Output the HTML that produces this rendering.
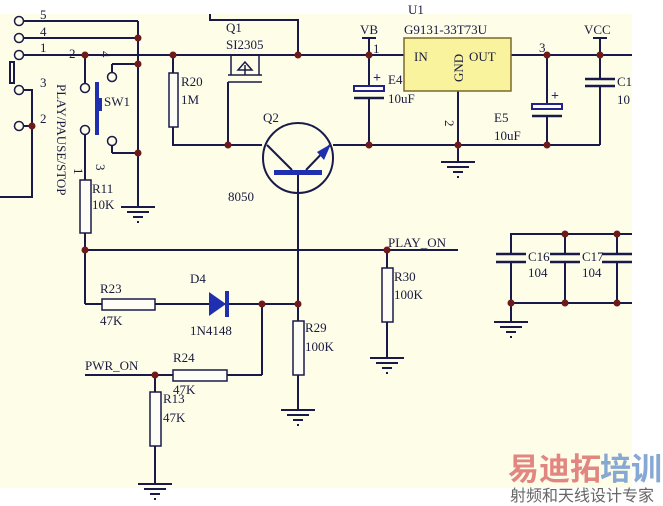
<!DOCTYPE html>
<html><head><meta charset="utf-8"><style>
html,body{margin:0;padding:0;background:#fff;}
svg{display:block;}
text{font-family:"Liberation Serif",serif;font-size:13px;fill:#1a1a40;}
</style></head><body>
<svg width="663" height="506" viewBox="0 0 663 506" xmlns="http://www.w3.org/2000/svg">
<defs>
<g id="g"><line x1="-17" y1="0" x2="17" y2="0"/><line x1="-11" y1="5" x2="11" y2="5"/><line x1="-5" y1="10" x2="5" y2="10"/><line x1="-1" y1="15" x2="1" y2="15"/></g>
</defs>
<rect x="0" y="14" width="632" height="474" fill="#fdfde8"/>
<g stroke="#1a1a4a" stroke-width="2" fill="none">
<line x1="23" y1="21" x2="138" y2="21"/>
<line x1="23" y1="38" x2="138" y2="38"/>
<line x1="23" y1="55" x2="632" y2="55"/>
<line x1="138" y1="21" x2="138" y2="207"/>
<line x1="138" y1="64" x2="112" y2="64"/><line x1="112" y1="64" x2="112" y2="73"/>
<line x1="138" y1="153" x2="112" y2="153"/><line x1="112" y1="153" x2="112" y2="145"/>
<line x1="85" y1="55" x2="85" y2="84"/>
<line x1="85" y1="134" x2="85" y2="180"/>
<line x1="85" y1="233" x2="85" y2="304"/>
<line x1="85" y1="250" x2="458" y2="250"/>
<polyline points="23,90 32,90 32,197 0,197"/>
<line x1="23" y1="126" x2="32" y2="126"/>
<rect x="10" y="62" width="4" height="21"/>
<line x1="173" y1="55" x2="173" y2="73"/>
<polyline points="173,127 173,145 262,145"/>
<line x1="228" y1="82" x2="228" y2="145"/>
<line x1="228" y1="82" x2="262" y2="82" stroke-width="1.5"/>
<line x1="228" y1="75" x2="262" y2="75" stroke-width="1.5"/>
<line x1="231" y1="55" x2="231" y2="75" stroke-width="1.5"/>
<line x1="259" y1="55" x2="259" y2="75" stroke-width="1.5"/>
<line x1="245" y1="75" x2="245" y2="65" stroke-width="1.5"/>
<polygon points="238,70 252,70 245,62" stroke-width="1.5"/>
<polyline points="210,14 210,20 298,20 298,55"/>
<circle cx="298" cy="158" r="35"/>
<line x1="267" y1="145" x2="292" y2="170"/>
<line x1="306" y1="170" x2="330" y2="145"/>
<line x1="333" y1="145" x2="600" y2="145"/>
<line x1="298" y1="173" x2="298" y2="375"/>
<line x1="369" y1="38" x2="369" y2="88"/>
<line x1="362" y1="38" x2="376" y2="38"/>
<line x1="369" y1="98" x2="369" y2="145"/>
<line x1="458" y1="91" x2="458" y2="162"/>
<line x1="547" y1="55" x2="547" y2="106"/>
<line x1="547" y1="116" x2="547" y2="145"/>
<line x1="600" y1="38" x2="600" y2="79"/>
<line x1="593" y1="38" x2="607" y2="38"/>
<line x1="600" y1="86" x2="600" y2="145"/>
<line x1="85" y1="304" x2="102" y2="304"/>
<line x1="155" y1="304" x2="298" y2="304"/>
<line x1="262" y1="304" x2="262" y2="375"/>
<line x1="227" y1="375" x2="262" y2="375"/>
<line x1="85" y1="375" x2="173" y2="375"/>
<line x1="155" y1="375" x2="155" y2="392"/>
<line x1="155" y1="446" x2="155" y2="484"/>
<line x1="298" y1="375" x2="298" y2="410"/>
<line x1="387" y1="250" x2="387" y2="268"/>
<line x1="387" y1="322" x2="387" y2="358"/>
<polyline points="632,234 511,234 511,254"/>
<line x1="511" y1="262" x2="511" y2="322"/>
<line x1="565" y1="234" x2="565" y2="254"/><line x1="565" y1="262" x2="565" y2="303"/>
<line x1="617" y1="234" x2="617" y2="254"/><line x1="617" y1="262" x2="617" y2="303"/>
<line x1="511" y1="303" x2="632" y2="303"/>
</g>
<g stroke="#1a1a4a" stroke-width="1.5" fill="#fdfde8">
<circle cx="19" cy="21" r="4.5"/><circle cx="19" cy="38" r="4.5"/><circle cx="19" cy="55" r="4.5"/>
<circle cx="19" cy="90" r="4.5"/><circle cx="19" cy="126" r="4.5"/>
<circle cx="85" cy="88" r="4.5"/><circle cx="85" cy="130" r="4.5"/>
<circle cx="112" cy="77" r="4.5"/><circle cx="112" cy="141" r="4.5"/>
</g>
<g stroke="#1a1a4a" stroke-width="1.5" fill="#fdfdf5">
<rect x="80" y="180" width="11" height="53"/>
<rect x="169" y="73" width="9" height="54"/>
<rect x="102" y="299" width="53" height="11"/>
<rect x="173" y="370" width="54" height="11"/>
<rect x="150" y="392" width="11" height="54"/>
<rect x="293" y="321" width="11" height="54"/>
<rect x="382" y="268" width="11" height="54"/>
</g>
<g stroke="#1a1a4a" stroke-width="2">
<use href="#g" x="138" y="207"/><use href="#g" x="458" y="162"/><use href="#g" x="298" y="410"/>
<use href="#g" x="387" y="358"/><use href="#g" x="155" y="484"/><use href="#g" x="511" y="322"/>
</g>
<g stroke="#1a1a4a" stroke-width="2.5" fill="none">
<rect x="354" y="86" width="30" height="5" fill="#fdfde8" stroke-width="2" stroke="#22228a"/>
<line x1="354" y1="98" x2="384" y2="98"/>
<rect x="532" y="104" width="30" height="5" fill="#fdfde8" stroke-width="2" stroke="#22228a"/>
<line x1="532" y1="116" x2="562" y2="116"/>
<line x1="585" y1="79" x2="615" y2="79"/><line x1="585" y1="86" x2="615" y2="86"/>
<line x1="496" y1="254" x2="526" y2="254"/><line x1="496" y1="262" x2="526" y2="262"/>
<line x1="550" y1="254" x2="580" y2="254"/><line x1="550" y1="262" x2="580" y2="262"/>
<line x1="602" y1="254" x2="632" y2="254"/><line x1="602" y1="262" x2="632" y2="262"/>
</g>
<text x="373" y="82" style="fill:#22228a;font-size:14px;font-weight:bold">+</text><text x="551" y="100" style="fill:#22228a;font-size:14px;font-weight:bold">+</text>
<rect x="95" y="82" width="4" height="53" fill="#1f2fb0"/>
<rect x="98" y="98" width="4" height="13" fill="#1f2fb0"/>
<rect x="274" y="170" width="48" height="5" fill="#1f2fb0"/>
<polygon points="331,144 317,152 324,160" fill="#1f2fb0"/>
<polygon points="209,292 209,316 226,304" fill="#1f2fb0"/>
<rect x="225" y="291" width="4" height="26" fill="#1f2fb0"/>
<rect x="404" y="38" width="107" height="53" fill="#f8f39c" stroke="#7a6a2a" stroke-width="1.5"/>
<g fill="#6e1a1a">
<circle cx="138" cy="38" r="3.5"/><circle cx="138" cy="64" r="3.5"/><circle cx="138" cy="153" r="3.5"/>
<circle cx="85" cy="55" r="3.5"/><circle cx="32" cy="126" r="3.5"/><circle cx="173" cy="55" r="3.5"/>
<circle cx="228" cy="145" r="3.5"/><circle cx="298" cy="55" r="3.5"/><circle cx="369" cy="55" r="3.5"/>
<circle cx="369" cy="145" r="3.5"/><circle cx="458" cy="145" r="3.5"/><circle cx="547" cy="145" r="3.5"/>
<circle cx="547" cy="55" r="3.5"/><circle cx="600" cy="55" r="3.5"/><circle cx="85" cy="250" r="3.5"/>
<circle cx="387" cy="250" r="3.5"/><circle cx="262" cy="304" r="3.5"/><circle cx="298" cy="304" r="3.5"/>
<circle cx="155" cy="375" r="3.5"/><circle cx="565" cy="234" r="3.5"/><circle cx="617" cy="234" r="3.5"/>
<circle cx="511" cy="303" r="3.5"/><circle cx="565" cy="303" r="3.5"/><circle cx="617" cy="303" r="3.5"/>
</g>
<text x="40" y="19">5</text><text x="40" y="36">4</text><text x="40" y="52">1</text>
<text x="40" y="87">3</text><text x="40" y="123">2</text>
<text x="69" y="58">2</text>
<text x="101" y="51" transform="rotate(90 101 51)">4</text>
<text x="74" y="168" transform="rotate(90 74 168)">1</text>
<text x="96" y="164" transform="rotate(90 96 164)">3</text>
<text x="57" y="84" transform="rotate(90 57 84)" style="font-size:13px">PLAY/PAUSE/STOP</text>
<text x="104" y="106">SW1</text>
<text x="92" y="193">R11</text><text x="92" y="209">10K</text>
<text x="181" y="86">R20</text><text x="181" y="104">1M</text>
<text x="226" y="32">Q1</text><text x="226" y="49">SI2305</text>
<text x="263" y="122">Q2</text><text x="228" y="201">8050</text>
<text x="360" y="34">VB</text><text x="373" y="53">1</text>
<text x="404" y="34">G9131-33T73U</text><text x="408" y="14">U1</text>
<text x="414" y="61">IN</text><text x="469" y="61">OUT</text>
<text x="463" y="82" transform="rotate(-90 463 82)">GND</text>
<text x="445" y="120" transform="rotate(90 445 120)">2</text>
<text x="388" y="84">E4</text><text x="388" y="103">10uF</text>
<text x="494" y="122">E5</text><text x="494" y="140">10uF</text>
<text x="539" y="52">3</text>
<text x="584" y="34">VCC</text>
<text x="617" y="86">C1</text><text x="617" y="104">10</text>
<text x="388" y="247">PLAY_ON</text>
<text x="100" y="293">R23</text><text x="100" y="325">47K</text>
<text x="190" y="283">D4</text><text x="190" y="335">1N4148</text>
<text x="305" y="332">R29</text><text x="305" y="351">100K</text>
<text x="394" y="281">R30</text><text x="394" y="299">100K</text>
<text x="85" y="370">PWR_ON</text>
<text x="173" y="362">R24</text><text x="173" y="394">47K</text>
<text x="163" y="403">R13</text><text x="163" y="422">47K</text>
<text x="528" y="261">C16</text><text x="528" y="277">104</text>
<text x="582" y="261">C17</text><text x="582" y="277">104</text>
<text x="508" y="480" style="font-family:'Noto Sans CJK SC',sans-serif;font-size:31px;font-weight:bold;fill:#e07a78;opacity:0.9">易迪拓</text>
<text x="600" y="480" style="font-family:'Noto Sans CJK SC',sans-serif;font-size:31px;font-weight:bold;fill:#7a9fd0;opacity:0.9">培训</text>
<text x="510" y="501" style="font-family:'Noto Sans CJK SC',sans-serif;font-size:16px;fill:#666">射频和天线设计专家</text>
</svg>
</body></html>
